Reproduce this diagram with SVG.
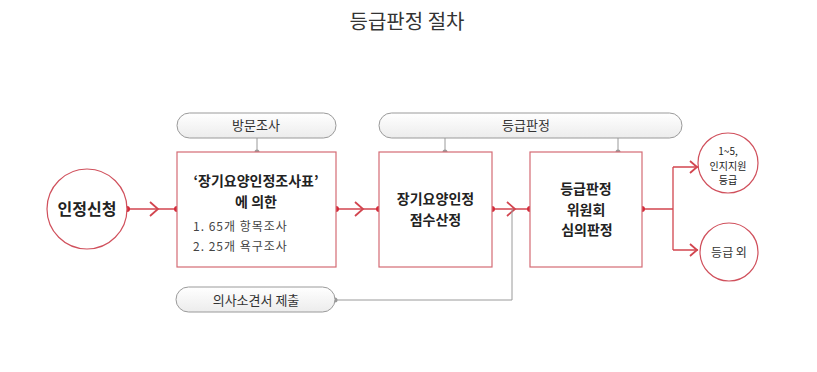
<svg xmlns="http://www.w3.org/2000/svg" width="817" height="372" viewBox="0 0 817 372">
<defs>
<linearGradient id="pillg" x1="0" y1="0" x2="0" y2="1">
<stop offset="0" stop-color="#ffffff"/>
<stop offset="1" stop-color="#ececec"/>
</linearGradient>
<style>
text{font-family:"Noto Sans CJK KR","Noto Sans",sans-serif;text-anchor:middle;fill:#222}
.title{font-size:20px;fill:#333}
.box{fill:#fff;stroke:#d46b74;stroke-width:1.2}
.circ{fill:#fff;stroke:#d0505c;stroke-width:1.2}
.pill{fill:url(#pillg);stroke:#9a9a9a;stroke-width:1}
.red{fill:none;stroke:#d2454f;stroke-width:1.3}
.chev{fill:none;stroke:#d2454f;stroke-width:1.8}
.gray{fill:none;stroke:#9a9a9a;stroke-width:1}
.rdot{fill:#d42a3a}
.gdot{fill:#999}
.b{font-weight:bold;font-size:14px}
.big{font-weight:bold;font-size:16px}
.item{font-size:12px;text-anchor:start;fill:#444;letter-spacing:1px}
.pt{font-size:13px;fill:#333}
.sm{font-size:10px;fill:#222}
</style>
</defs>
<text class="title" x="407" y="29">등급판정 절차</text>

<g id="connectors">
<path class="red" d="M127,209 H177"/>
<path class="chev" d="M150,202 L158,209 L150,216"/>
<path class="red" d="M336,209 H379"/>
<path class="chev" d="M355,202 L363,209 L355,216"/>
<path class="red" d="M492,209 H530"/>
<path class="chev" d="M507,202 L515,209 L507,216"/>
<path class="red" d="M642,209 H673 M673,167 V250 M673,167 H698 M673,250 H698"/>
<path class="chev" d="M690,161 L697,167 L690,173"/>
<path class="chev" d="M690,244 L697,250 L690,256"/>
<path class="gray" d="M257,138 V152 M445,138 V152 M618,138 V152"/>
<path class="gray" d="M335,300 H512 V209"/>
<circle class="rdot" cx="127" cy="209" r="3"/>
<circle class="rdot" cx="177" cy="209" r="3"/>
<circle class="rdot" cx="336" cy="209" r="3"/>
<circle class="rdot" cx="379" cy="209" r="3"/>
<circle class="rdot" cx="492" cy="209" r="3"/>
<circle class="rdot" cx="530" cy="209" r="3"/>
<circle class="rdot" cx="642" cy="209" r="3"/>
<circle class="gdot" cx="257" cy="152" r="2.5"/>
<circle class="gdot" cx="445" cy="152" r="2.5"/>
<circle class="gdot" cx="618" cy="152" r="2.5"/>
<circle class="gdot" cx="335" cy="300" r="2.5"/>
</g>

<g id="start">
<circle class="circ" cx="87" cy="209" r="40"/>
<text class="big" x="87" y="215">인정신청</text>
</g>

<g id="visit">
<rect class="pill" x="177" y="113" width="159" height="25" rx="12.5"/>
<text class="pt" x="256" y="130">방문조사</text>
</g>

<g id="grade-label">
<rect class="pill" x="379" y="113" width="303" height="25" rx="12.5"/>
<text class="pt" x="526" y="130">등급판정</text>
</g>

<g id="doctor">
<rect class="pill" x="176" y="287" width="159" height="25" rx="12.5"/>
<text class="pt" x="256" y="304.5">의사소견서 제출</text>
</g>

<g id="survey">
<rect class="box" x="177" y="152" width="159" height="115"/>
<text class="b" x="256" y="186">‘장기요양인정조사표’</text>
<text class="b" x="256" y="206.5">에 의한</text>
<text class="item" x="193" y="231">1. 65개 항목조사</text>
<text class="item" x="193" y="251">2. 25개 욕구조사</text>
</g>

<g id="score">
<rect class="box" x="379" y="152" width="113" height="115"/>
<text class="b" x="435.5" y="204">장기요양인정</text>
<text class="b" x="435.5" y="224.5">점수산정</text>
</g>

<g id="committee">
<rect class="box" x="530" y="152" width="112" height="115"/>
<text class="b" x="586" y="194">등급판정</text>
<text class="b" x="586" y="214.5">위원회</text>
<text class="b" x="587" y="235">심의판정</text>
</g>

<g id="grade-1-5">
<circle class="circ" cx="728" cy="163" r="30"/>
<text class="sm" x="728" y="155">1~5,</text>
<text class="sm" x="728" y="169.5">인지지원</text>
<text class="sm" x="728" y="184">등급</text>
</g>

<g id="grade-out">
<circle class="circ" cx="729" cy="252" r="29"/>
<text class="pt" x="729" y="256.5" style="font-size:12px">등급 외</text>
</g>
</svg>
